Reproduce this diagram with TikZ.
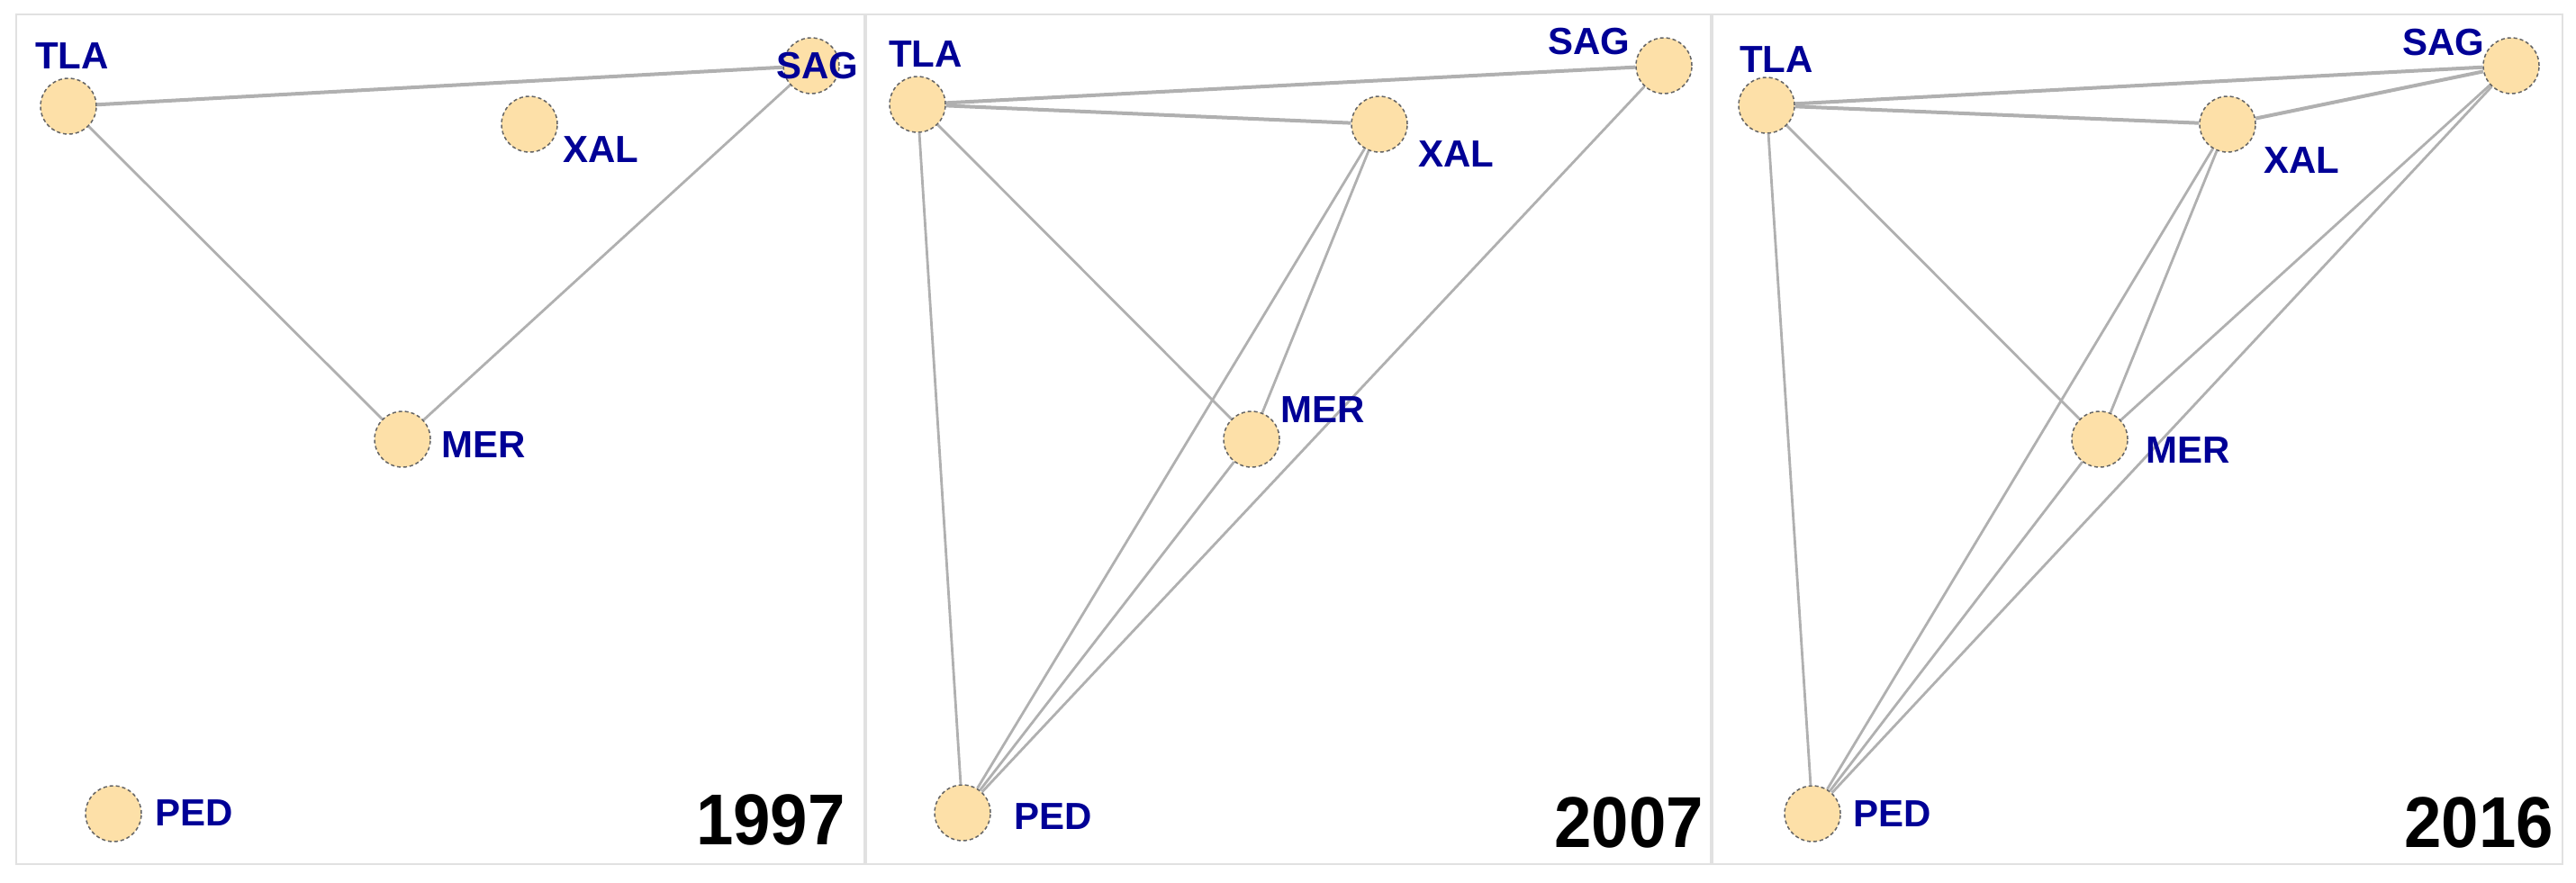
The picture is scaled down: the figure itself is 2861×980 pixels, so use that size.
\documentclass[tikz,border=0pt]{standalone}
\usepackage{fontspec}
\setmainfont{Liberation Sans}
\definecolor{nodefill}{RGB}{253,224,168}
\definecolor{nodeline}{RGB}{100,100,100}
\definecolor{edgecol}{RGB}{176,176,176}
\definecolor{labcol}{RGB}{0,0,150}
\definecolor{framecol}{RGB}{225,225,225}
\pgfdeclarelayer{edges}
\pgfsetlayers{edges,main}
\tikzset{
  site/.style={circle,fill=nodefill,draw=nodeline,line width=1.5pt,dash pattern=on 4pt off 3pt,minimum size=62pt,inner sep=0pt},
  lab/.style={text=labcol,font=\fontsize{42}{48}\selectfont\bfseries,inner sep=0pt,anchor=center},
  yearlab/.style={text=black,font=\fontsize{80}{90}\selectfont\bfseries,inner sep=0pt,anchor=center},
  link/.style={draw=edgecol,line width=2.8pt},
  heavylink/.style={draw=edgecol,line width=4pt},
  panel/.style={draw=framecol,line width=2pt}
}
\begin{document}
\begin{tikzpicture}[x=1pt,y=-1pt]
\useasboundingbox (0,0) rectangle (2861,980);
\begin{pgfonlayer}{edges}
\fill[white] (0,0) rectangle (2861,980);
\draw[panel] (18,16) rectangle (960,960);
\draw[panel] (962,16) rectangle (1900,960);
\draw[panel] (1902,16) rectangle (2846,960);
\end{pgfonlayer}

% ---------- Panel 1997 ----------
\node[site] (a1) at (76,118) {};
\node[site] (a2) at (901,73) {};
\node[site] (a3) at (588,138) {};
\node[site] (a4) at (447,488) {};
\node[site] (a5) at (126,904) {};
% ---------- Panel 2007 ----------
\node[site] (b1) at (1019,116) {};
\node[site] (b2) at (1848,73) {};
\node[site] (b3) at (1532,138) {};
\node[site] (b4) at (1390,488) {};
\node[site] (b5) at (1069,903) {};
% ---------- Panel 2016 ----------
\node[site] (c1) at (1962,117) {};
\node[site] (c2) at (2789,73) {};
\node[site] (c3) at (2474,138) {};
\node[site] (c4) at (2332,488) {};
\node[site] (c5) at (2013,904) {};

\begin{pgfonlayer}{edges}
% edges 1997
\draw[heavylink] (a1) -- (a2);
\draw[link] (a1) -- (a4);
\draw[link] (a2) -- (a4);
% edges 2007
\draw[heavylink] (b1) -- (b2);
\draw[heavylink] (b1) -- (b3);
\draw[link] (b1) -- (b4);
\draw[link] (b1) -- (b5);
\draw[link] (b3) -- (b4);
\draw[link] (b3) -- (b5);
\draw[link] (b2) -- (b5);
\draw[link] (b4) -- (b5);
% edges 2016
\draw[heavylink] (c1) -- (c2);
\draw[heavylink] (c1) -- (c3);
\draw[heavylink] (c3) -- (c2);
\draw[link] (c1) -- (c4);
\draw[link] (c1) -- (c5);
\draw[link] (c3) -- (c4);
\draw[link] (c3) -- (c5);
\draw[link] (c2) -- (c4);
\draw[link] (c2) -- (c5);
\draw[link] (c4) -- (c5);
\end{pgfonlayer}

% labels 1997
\node[lab] (a1l) at (80,62) {TLA};
\node[lab] (a2l) at (908,73) {SAG};
\node[lab] (a3l) at (667,166) {XAL};
\node[lab] (a4l) at (537,494) {MER};
\node[lab] (a5l) at (216,903) {PED};
\node[yearlab] (ya) at (856,911) {\scalebox{0.93}[1]{1997}};
% labels 2007
\node[lab] (b1l) at (1028,60) {TLA};
\node[lab] (b2l) at (1765,46) {SAG};
\node[lab] (b3l) at (1617,171) {XAL};
\node[lab] (b4l) at (1469,455) {MER};
\node[lab] (b5l) at (1170,907) {PED};
\node[yearlab] (yb) at (1809,914) {\scalebox{0.93}[1]{2007}};
% labels 2016
\node[lab] (c1l) at (1973,66) {TLA};
\node[lab] (c2l) at (2714,47) {SAG};
\node[lab] (c3l) at (2556,178) {XAL};
\node[lab] (c4l) at (2430,500) {MER};
\node[lab] (c5l) at (2102,904) {PED};
\node[yearlab] (yc) at (2753,914) {\scalebox{0.93}[1]{2016}};
\end{tikzpicture}
\end{document}
